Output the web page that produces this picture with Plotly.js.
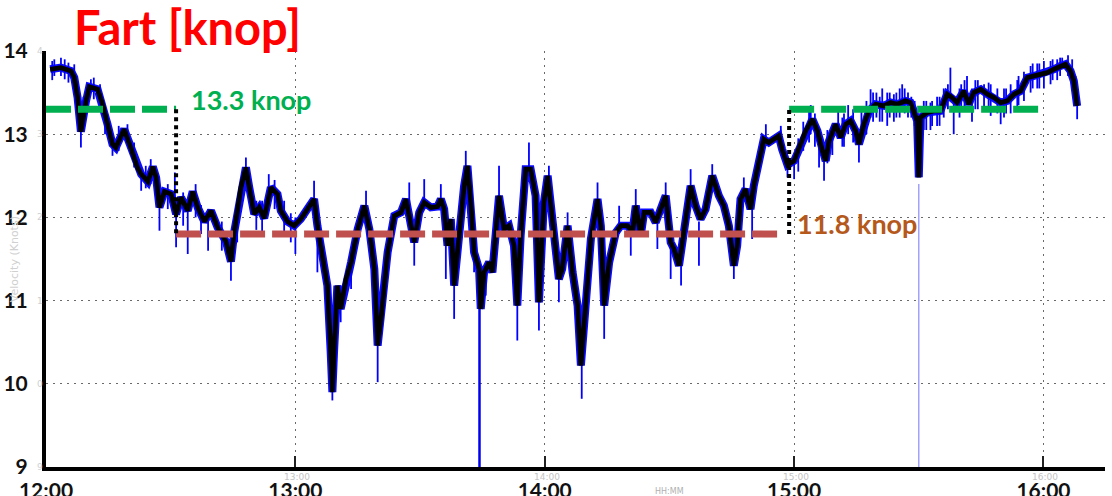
<!DOCTYPE html>
<html>
<head>
<meta charset="utf-8">
<script src="https://cdn.plot.ly/plotly-3.0.1.min.js"></script>
<style>
  html, body { margin: 0; padding: 0; background: #fff; }
  #chart { width: 1112px; height: 496px; }
</style>
</head>
<body>
<div id="chart"></div>
<script>
// Time axis: minutes after 12:00
const hourTicks = [0, 60, 120, 180, 240];
const hourLabels = ["12:00", "13:00", "14:00", "15:00", "16:00"];
const knotTicks = [9, 10, 11, 12, 13, 14];

// Smoothed speed over ground (knots)
const minutes = [
  1.0, 3.6, 6.0, 6.8, 7.6, 8.4, 9.6, 10.4, 12.4, 13.6, 14.8, 16.0, 16.8, 18.8, 20.4, 22.0, 22.9, 24.5, 25.7, 26.5,
  27.3, 28.5, 30.1, 31.3, 32.5, 34.1, 35.3, 36.5, 38.1, 39.7, 41.3, 43.3, 44.5, 45.3, 46.9, 48.1, 48.9, 50.1, 51.3, 52.5,
  54.1, 55.7, 56.5, 58.1, 59.7,
  61.3, 62.9, 64.5, 65.3, 66.1, 66.9, 67.7, 68.5, 68.9, 69.3, 70.1, 70.9, 72.2, 73.4, 75.0, 76.6, 77.8, 79.0, 79.8, 80.6,
  82.2, 83.8, 85.4, 86.6, 87.8, 88.6, 89.8, 91.0, 92.6, 94.2, 95.0, 95.8, 96.6, 97.4, 98.2, 99.0, 99.8, 100.6, 101.4, 102.2,
  103.0, 104.2, 104.6, 105.4, 106.6, 107.4, 109.0, 110.2, 111.4, 112.6, 113.4, 114.2, 115.4, 116.6, 117.8, 118.6, 119.8,
  120.7, 122.2, 123.4, 124.2, 125.5, 126.7, 127.9, 128.7, 129.5, 131.1, 132.7, 133.5, 134.3, 135.5, 137.1, 138.3, 139.9,
  141.1, 141.9, 143.1, 143.9, 145.5, 146.7, 147.9, 149.1, 150.3, 151.1, 152.3, 153.9, 155.1, 156.3, 157.5, 158.7, 160.3,
  161.9, 163.1, 164.3, 165.5, 166.3, 167.1, 168.3, 169.5, 170.3, 171.5, 172.7, 173.9, 175.1, 176.3, 177.1, 178.4, 180.0,
  181.6, 182.8, 184.4, 185.6, 186.8, 187.6, 188.4, 190.0, 191.2, 192.4, 193.6, 194.8, 195.6, 196.8, 198.0, 199.6, 201.6,
  203.2, 204.8, 206.8, 208.0, 208.8, 209.6, 210.0, 210.4, 212.0, 213.6, 215.2, 216.8, 218.0, 219.2, 220.8, 222.0, 223.2,
  224.9, 226.5, 228.1, 229.7, 231.3, 232.9, 234.5, 236.1, 237.7, 239.3, 240.9, 242.5, 244.1, 245.3, 246.5, 247.3, 248.1
];
const knots = [
  13.78, 13.80, 13.76, 13.68, 13.44, 13.03, 13.39, 13.57, 13.54, 13.36, 13.12, 12.88, 12.84, 13.06, 12.84, 12.60, 12.52, 12.43, 12.61, 12.48,
  12.12, 12.31, 12.28, 12.04, 12.24, 12.08, 12.31, 12.12, 11.95, 12.08, 11.88, 11.71, 11.47, 11.83, 12.36, 12.60, 12.36, 12.04, 12.12, 11.99,
  12.36, 12.28, 12.08, 11.95, 11.90,
  11.98, 12.10, 12.22, 11.90, 11.66, 11.50, 11.18, 10.38, 9.90, 10.38, 11.18, 10.90, 11.26, 11.46, 11.86, 12.14, 11.86, 11.38, 10.46, 10.78,
  11.58, 12.02, 12.06, 12.22, 11.86, 11.70, 12.06, 12.18, 12.12, 12.13, 12.22, 12.10, 11.66, 11.98, 11.18, 11.66, 11.98, 12.38, 12.62, 12.18,
  11.58, 11.38, 10.90, 11.34, 11.46, 11.34, 12.26, 11.86, 11.90, 11.66, 10.94, 11.78, 12.58, 12.58, 12.26, 10.98, 12.18,
  12.50, 11.82, 11.26, 11.38, 11.90, 11.34, 10.94, 10.22, 10.70, 11.74, 12.22, 11.90, 10.94, 11.46, 11.82, 11.90, 11.90,
  11.82, 12.14, 11.78, 12.06, 12.06, 11.94, 12.10, 12.26, 11.70, 11.62, 11.42, 11.95, 12.38, 12.14, 11.98, 12.10, 12.50,
  12.26, 12.14, 11.90, 11.42, 11.66, 12.22, 12.34, 12.10, 12.38, 12.66, 12.94, 12.90, 12.94, 12.98, 12.82, 12.63, 12.68,
  12.88, 13.04, 13.18, 13.04, 12.80, 12.68, 12.92, 13.12, 12.96, 13.12, 13.16, 13.04, 12.88, 13.12, 13.28, 13.36, 13.34,
  13.38, 13.36, 13.40, 13.38, 13.28, 13.16, 12.48, 13.20, 13.26, 13.28, 13.28, 13.48, 13.44, 13.38, 13.52, 13.36, 13.50,
  13.54, 13.48, 13.44, 13.38, 13.40, 13.48, 13.52, 13.68, 13.70, 13.72, 13.74, 13.78, 13.82, 13.84, 13.76, 13.64, 13.34
];

// Raw-sample excursions around the smoothed curve: time, low, high
const blueT = [
  1.5, 2.0, 3.6, 4.5, 5.4, 6.8, 8.4, 9.0, 10.8, 11.5, 13.0, 14.2, 16.0, 17.5, 19.6, 21.2, 22.9, 24.0, 25.2, 27.3,
  29.3, 31.0, 31.3, 33.0, 34.1, 36.0, 37.3, 39.0, 42.3, 44.5, 46.0, 48.1, 50.6, 52.0, 53.6, 55.0, 57.3, 58.9, 60.0,
  64.5, 65.3, 68.9, 70.9, 73.4, 77.0, 79.8, 87.4, 88.6, 91.0, 95.0, 96.2, 98.2, 101.0, 103.0, 105.8, 109.0, 113.4, 116.2, 118.6,
  121.0, 123.4, 125.5, 128.9, 132.7, 134.3, 137.9, 140.7, 141.9, 147.1, 149.1, 150.3, 152.8, 155.1, 157.1, 160.3, 165.5, 167.9, 169.9,
  173.2, 176.8, 178.4, 180.0, 181.0, 183.6, 185.0, 186.0, 187.2, 189.2, 190.6, 192.0, 194.2, 195.6, 197.4, 198.4, 199.0,
  200.6, 202.4, 204.0, 205.4, 206.0, 207.4, 209.0, 211.2, 212.8, 214.4, 216.0, 217.6, 218.4, 219.8, 221.0, 221.6, 222.8,
  224.2, 225.7, 227.3, 228.9, 229.7, 230.5, 232.1, 233.7, 235.3, 236.9, 238.5, 240.1, 241.7, 243.3, 244.5, 245.9, 246.9,
  247.7, 248.1,
  182.2, 184.0, 188.0, 191.6, 193.0, 196.2, 199.8, 201.2, 203.0, 204.6, 206.6, 208.2, 211.8, 213.2, 215.0, 217.0,
  220.2, 223.6, 226.8, 231.0, 234.0, 237.4, 239.0, 242.2, 244.0
];
const blueLo = [
  13.65, 13.70, 13.70, 13.66, 13.62, 13.60, 12.84, 13.10, 13.50, 13.42, 13.30, 13.00, 12.74, 12.80, 12.90, 12.60, 12.32, 12.35, 12.40, 11.84,
  12.10, 12.00, 11.64, 11.90, 11.56, 12.00, 11.80, 11.60, 11.60, 11.24, 11.70, 12.50, 11.85, 11.80, 12.20, 12.10, 11.80, 11.70, 11.56,
  12.20, 11.34, 9.80, 10.74, 11.14, 12.10, 10.02, 12.10, 11.42, 12.10, 12.15, 11.26, 10.78, 12.50, 11.34, 11.06, 12.20, 10.52, 12.50, 10.64,
  12.30, 10.98, 11.80, 9.82, 12.10, 10.54, 11.80, 11.54, 12.10, 11.62, 12.20, 11.26, 11.18, 12.30, 11.42, 12.40, 11.26, 12.20, 11.74,
  12.90, 12.90, 12.48, 12.46, 12.55, 12.90, 12.85, 12.60, 12.44, 12.75, 12.95, 12.85, 12.90, 12.66, 13.00, 13.20, 13.15,
  13.15, 13.10, 13.15, 13.20, 13.30, 13.20, 13.10, 13.05, 13.05, 13.10, 13.20, 13.40, 13.00, 13.20, 13.30, 13.40, 13.15,
  13.30, 13.30, 13.22, 13.25, 13.12, 13.20, 13.25, 13.30, 13.40, 13.50, 13.55, 13.55, 13.60, 13.65, 13.80, 13.70, 13.60,
  13.40, 13.18,
  12.80, 13.00, 12.65, 12.85, 13.00, 12.95, 13.20, 13.15, 13.20, 13.20, 13.25, 13.20, 13.05, 13.10, 13.10, 13.30,
  13.30, 13.30, 13.30, 13.25, 13.35, 13.55, 13.55, 13.65, 13.70
];
const blueHi = [
  13.88, 13.90, 13.92, 13.90, 13.86, 13.84, 13.10, 13.45, 13.66, 13.68, 13.60, 13.30, 12.95, 13.10, 13.12, 12.90, 12.60, 12.62, 12.70, 12.20,
  12.40, 12.54, 12.10, 12.30, 12.10, 12.40, 12.15, 12.10, 11.95, 11.60, 12.10, 12.72, 12.20, 12.20, 12.52, 12.45, 12.20, 12.05, 12.00,
  12.44, 11.90, 10.00, 11.00, 11.50, 12.32, 10.50, 12.42, 11.75, 12.46, 12.40, 11.70, 11.20, 12.80, 11.60, 11.40, 12.62, 11.00, 12.90, 11.00,
  12.62, 11.30, 12.06, 10.30, 12.42, 11.00, 12.14, 11.85, 12.34, 12.00, 12.42, 11.70, 11.50, 12.58, 11.95, 12.64, 11.50, 12.48, 12.10,
  13.12, 13.10, 12.70, 12.70, 12.95, 13.30, 13.25, 12.95, 12.70, 13.10, 13.30, 13.25, 13.30, 12.90, 13.40, 13.54, 13.50,
  13.45, 13.50, 13.48, 13.55, 13.60, 13.50, 13.40, 13.40, 13.38, 13.45, 13.55, 13.80, 13.40, 13.55, 13.65, 13.70, 13.55,
  13.65, 13.60, 13.60, 13.55, 13.40, 13.55, 13.60, 13.65, 13.75, 13.82, 13.85, 13.88, 13.88, 13.90, 13.92, 13.95, 13.90,
  13.70, 13.40,
  13.15, 13.35, 13.05, 13.20, 13.35, 13.30, 13.50, 13.55, 13.50, 13.50, 13.55, 13.45, 13.40, 13.40, 13.45, 13.60,
  13.60, 13.65, 13.62, 13.55, 13.70, 13.85, 13.85, 13.90, 13.92
];

// Single-sample dropouts reaching the bottom of the scale
const dropT = [104.3, 210.0];
const dropTop = [10.90, 12.40];

// Average speed per leg
const legStart = [0, 31.3, 178.8];
const legEnd = [31.3, 177.2, 239.3];
const legAvg = [13.3, 11.8, 13.3];
const legColor = ["#00b050", "#c0504d", "#00b050"];
const labelColor = ["#00b050", "#b5581c", "#00b050"];

const traces = [];

// raw samples: band plus individual excursions
traces.push({ x: minutes, y: knots, mode: "lines", line: { color: "#0a0aff", width: 8 }, hoverinfo: "skip" });
const sx = [], sy = [];
blueT.forEach((t, i) => { sx.push(t, t, null); sy.push(blueLo[i], blueHi[i], null); });
traces.push({ x: sx, y: sy, mode: "lines", line: { color: "#0000ff", width: 1.8 }, hoverinfo: "skip" });
traces.push({ x: [dropT[0], dropT[0]], y: [dropTop[0], 9], mode: "lines", line: { color: "#0000ee", width: 2.5 }, hoverinfo: "skip" });
traces.push({ x: [dropT[1], dropT[1]], y: [dropTop[1], 9], mode: "lines", line: { color: "#8a8aff", width: 1.2 }, hoverinfo: "skip" });

// smoothed curve
traces.push({ x: minutes, y: knots, mode: "lines", line: { color: "#000000", width: 4.8 }, hoverinfo: "skip" });

// leg averages and connectors between them
legAvg.forEach((v, i) => {
  traces.push({ x: [legStart[i], legEnd[i]], y: [v, v], mode: "lines",
    line: { color: legColor[i], width: 7, dash: "25px,7px" }, hoverinfo: "skip" });
});
traces.push({ x: [legEnd[0], legEnd[0]], y: [legAvg[0], legAvg[1]], mode: "lines",
  line: { color: "#000", width: 4, dash: "4px,4px" }, hoverinfo: "skip" });
traces.push({ x: [legStart[2], legStart[2]], y: [legAvg[1], legAvg[2]], mode: "lines",
  line: { color: "#000", width: 4, dash: "4px,4px" }, hoverinfo: "skip" });

const annotations = [
  { x: 34.4, y: legAvg[0], yshift: 10, xanchor: "left", yanchor: "middle", showarrow: false,
    text: legAvg[0].toFixed(1) + " knop", font: { family: "Lato", size: 27, color: labelColor[0], weight: "bold" } },
  { x: 180.3, y: legAvg[1], yshift: 11, xanchor: "left", yanchor: "middle", showarrow: false,
    text: legAvg[1].toFixed(1) + " knop", font: { family: "Lato", size: 27, color: labelColor[1], weight: "bold" } },
  { xref: "paper", yref: "paper", x: -0.03, y: 0.5, xanchor: "center", yanchor: "middle", showarrow: false,
    textangle: -90, text: "Velocity (Knots)", font: { family: "DejaVu Sans", size: 11, color: "#d0d0d0" } },
  { x: 150, y: 9, yshift: -24, showarrow: false, text: "HH:MM",
    font: { family: "DejaVu Sans", size: 8, color: "#b0b0b0" } }
];
hourTicks.slice(1).forEach((t, i) => {
  annotations.push({ x: t, y: 9, yshift: -10, xshift: 2, showarrow: false, text: hourLabels[i + 1],
    font: { family: "DejaVu Sans", size: 9, color: "#c4c4c4" } });
});
knotTicks.forEach(k => {
  annotations.push({ xref: "paper", x: 0, xshift: -6, y: k, showarrow: false, xanchor: "center",
    text: String(k % 10), font: { family: "DejaVu Sans", size: 9, color: "#cfcfcf" } });
});

const gridStyle = { showgrid: true, gridcolor: "#6a6a6a", gridwidth: 1.2, griddash: "2px,5px" };

const layout = {
  width: 1112, height: 496,
  margin: { l: 46, r: 7, t: 51, b: 29 },
  paper_bgcolor: "#ffffff", plot_bgcolor: "#ffffff",
  showlegend: false,
  title: { text: "Fart [knop]", xref: "container", yref: "container", x: 74 / 1112, xanchor: "left",
    y: 1 - 29 / 496, yanchor: "middle", font: { family: "Lato", size: 47, color: "#ff0000", weight: "bold" } },
  xaxis: Object.assign({
    range: [0, 254.8], tickmode: "array", tickvals: hourTicks, ticktext: hourLabels,
    ticks: "inside", ticklen: 11, tickwidth: 2, tickcolor: "#222",
    showline: true, linecolor: "#000", linewidth: 4, zeroline: false,
    tickfont: { family: "Lato", size: 21, color: "#111", weight: "bold" }, ticklabelstandoff: 2
  }, gridStyle),
  xaxis2: {
    overlaying: "x", side: "top", anchor: "y", range: [0, 254.8], tickmode: "array", tickvals: hourTicks,
    ticks: "inside", ticklen: 12, tickwidth: 2, tickcolor: "#222", showticklabels: false,
    showgrid: false, showline: true, linecolor: "#9a9a9a", linewidth: 1.5, zeroline: false
  },
  yaxis: Object.assign({
    range: [9, 14], tickmode: "array", tickvals: knotTicks,
    ticks: "", showline: true, linecolor: "#000", linewidth: 4, zeroline: false,
    tickfont: { family: "Lato", size: 21, color: "#111", weight: "bold" }, ticklabelstandoff: 10
  }, gridStyle),
  annotations: annotations
};

Plotly.newPlot("chart", traces, layout, { staticPlot: true, displayModeBar: false });
</script>
</body>
</html>
